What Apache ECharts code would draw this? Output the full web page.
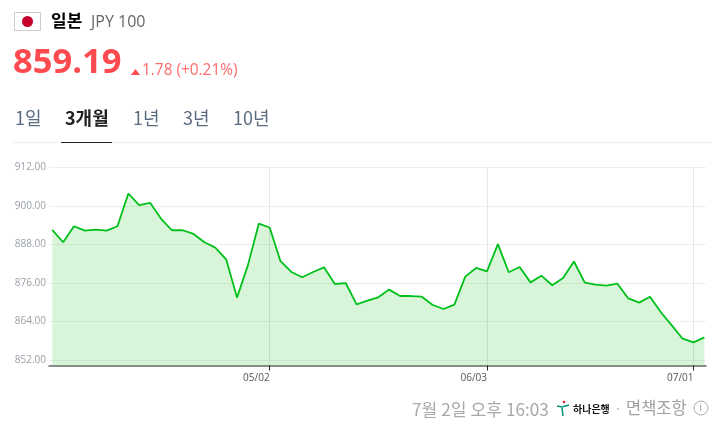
<!DOCTYPE html>
<html lang="ko">

<head>
  <meta charset="UTF-8">
  <title>JPY 100</title>
  <script src="https://cdn.jsdelivr.net/npm/echarts@6/dist/echarts.min.js"></script>
  <style>
    html, body { margin: 0; padding: 0; background: #fff; }
  </style>
</head>

<body>
  <div id="chart" style="width: 712px; height: 426px;"></div>
  <script>
    // values, one per trading day
    var rates = [
      892.55, 888.7, 893.7, 892.35, 892.65, 892.35, 893.7, 903.9, 900.25, 901,
      896.1, 892.45, 892.45, 891.3, 888.7, 887.05, 883.4, 871.45, 881.5, 894.5,
      893.3, 882.8, 879.45, 877.8, 879.45, 880.9, 875.7, 876, 869.35, 870.5,
      871.55, 873.95, 871.95, 871.95, 871.75, 869.15, 867.9, 869.25, 878, 880.7,
      879.65, 888.1, 879.35, 881, 876.2, 878.3, 875.3, 877.6, 882.7, 876.1,
      875.5, 875.2, 875.8, 871.2, 869.9, 871.75, 866.9, 862.8, 858.65, 857.5,
      859.05
    ];
    var dateIndex = [20, 40, 59];
    var dateLabels = ["05/02", "06/03", "07/01"];
    var yTicks = [852, 864, 876, 888, 900, 912];
    var tabs = ["1일", "3개월", "1년", "3년", "10년"];
    var tabX = [15, 65, 133, 183, 233];

    var FONT = '"Open Sans", "Noto Sans CJK KR", sans-serif';
    var KR = '"Noto Sans CJK KR", sans-serif';

    function label(x, y, text, size, color, weight, family) {
      return {
        type: "text", x: x, y: y, silent: true,
        style: {
          text: text, fontSize: size, fill: color, fontWeight: weight || "normal",
          fontFamily: family || FONT, verticalAlign: "middle"
        }
      };
    }

    var header = [
      // flag
      { type: "rect", shape: { x: 14.5, y: 12.5, width: 26, height: 18 }, style: { fill: "#fff", stroke: "#ccc", lineWidth: 1 } },
      { type: "circle", shape: { cx: 27.5, cy: 21.5, r: 5.5 }, style: { fill: "#c4002b" } },
      label(51, 21, "일본", 17, "#000", "bold", KR),
      label(91, 22, "JPY 100", 16, "#666"),
      label(13, 63, "859.19", 34.5, "#ff4b50", "bold"),
      { type: "polygon", shape: { points: [[131, 75], [140, 75], [135.5, 69]] }, style: { fill: "#ff4b50" } },
      label(142, 71, "1.78 (+0.21%)", 15.4, "#ff6b6b"),
      // tab rule
      { type: "rect", shape: { x: 12, y: 142, width: 700, height: 1 }, style: { fill: "#eee" } },
      { type: "rect", shape: { x: 61, y: 142, width: 51, height: 1 }, style: { fill: "#222" } }
    ];
    tabs.forEach(function (t, i) {
      header.push(label(tabX[i], 118, t, 18, i == 1 ? "#222" : "#5b6b80", i == 1 ? "bold" : "normal", KR));
    });

    var footer = [
      label(412, 409, "7월 2일 오후 16:03", 17.2, "#a8a8a8", "normal", KR),
      // hana bank mark
      { type: "polyline", shape: { points: [[557, 406], [562, 407], [569, 405]] }, style: { stroke: "#00927c", fill: "none", lineWidth: 1.5 } },
      { type: "polyline", shape: { points: [[562, 408], [563, 416]] }, style: { stroke: "#00927c", fill: "none", lineWidth: 1.5 } },
      { type: "circle", shape: { cx: 564, cy: 402, r: 1.3 }, style: { fill: "#e8213f" } },
      label(573, 409, "하나은행", 10, "#111", "bold", KR),
      label(616, 409, "·", 14, "#bbb", "normal", KR),
      label(626, 408, "면책조항", 16.5, "#a0a0a0", "normal", KR),
      { type: "circle", shape: { cx: 701, cy: 408, r: 7 }, style: { fill: "none", stroke: "#aaa", lineWidth: 1 } },
      label(699.5, 408, "i", 10, "#999")
    ];

    var myChart = echarts.init(document.getElementById("chart"), null, { renderer: "canvas" });

    var option = {
      animation: false,
      textStyle: { fontFamily: FONT },
      grid: { left: 49, right: 6, top: 167.5, bottom: 60.5 },
      xAxis: {
        type: "value",
        min: -0.3,
        max: 60.15,
        axisLine: { onZero: false, lineStyle: { color: "#666", width: 1.5 } },
        axisTick: { customValues: dateIndex, length: 5, lineStyle: { color: "#222" } },
        axisLabel: {
          customValues: dateIndex,
          align: "right",
          margin: 8,
          fontSize: 10,
          color: "#555",
          formatter: function (v) { return dateLabels[dateIndex.indexOf(v)]; }
        },
        splitLine: { show: true, lineStyle: { color: "#e4e6e8", width: 1 } }
      },
      yAxis: {
        type: "value",
        min: 850.3,
        max: 912,
        axisLine: { show: false },
        axisTick: { show: false, customValues: yTicks },
        axisLabel: {
          customValues: yTicks,
          margin: 3,
          fontSize: 10,
          color: "#9aa0a8",
          padding: [4, 0, 0, 0],
          formatter: function (v) { return v.toFixed(2); }
        },
        splitLine: { lineStyle: { color: "#eeeeee", width: 1 } }
      },
      series: [{
        type: "line",
        data: rates.map(function (v, i) { return [i, v]; }),
        symbol: "none",
        silent: true,
        lineStyle: { color: "#00c01a", width: 1.8 },
        areaStyle: { color: "rgba(0,190,0,0.15)", opacity: 1, origin: "start" }
      }],
      graphic: { elements: header.concat(footer) }
    };

    myChart.setOption(option);
  </script>
</body>

</html>
